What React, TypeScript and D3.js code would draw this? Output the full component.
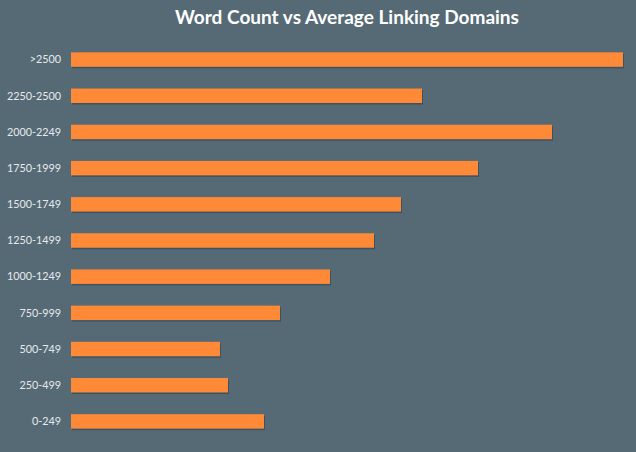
import React from "react";
import * as d3 from "d3";

const categories = ["0-249", "250-499", "500-749", "750-999", "1000-1249", "1250-1499", "1500-1749", "1750-1999", "2000-2249", "2250-2500", ">2500"];
const values = [193, 157, 149, 209, 259, 303, 330, 407, 481, 351, 552];
const title = "Word Count vs Average Linking Domains";

const W = 636;
const H = 452;
const margin = { left: 71, right: 13, top: 41.5, bottom: 12.5 };

export default function App() {
  const order = [...categories].reverse();
  const x = d3.scaleLinear().domain([0, 552]).range([margin.left, W - margin.right]);
  const y = d3
    .scaleBand<string>()
    .domain(order)
    .range([margin.top, H - margin.bottom])
    .paddingInner(0.6)
    .paddingOuter(0.3);
  const data = categories.map((c, i) => ({ c, v: values[i] }));
  return (
    <svg width={W} height={H} style={{ position: "absolute", left: 0, top: 0, display: "block" }}>
      <rect x={0} y={0} width={W} height={H} fill="#566a76" />
      <text x={347} y={24} textAnchor="middle" fill="#ffffff" fontFamily="Lato, 'Open Sans', sans-serif" fontWeight="bold" fontSize={19}>
        {title}
      </text>
      {data.map((d) => (
        <g key={d.c}>
          <rect x={x(0) + 1} y={(y(d.c) as number) + 1.5} width={x(d.v) - x(0)} height={y.bandwidth()} fill="#3c5363" />
          <rect x={x(0)} y={y(d.c) as number} width={x(d.v) - x(0)} height={y.bandwidth()} fill="#fe8a37" />
          <text
            x={61}
            y={(y(d.c) as number) + y.bandwidth() / 2}
            dy="0.35em"
            textAnchor="end"
            fill="#e6e9ec"
            fontFamily="Lato, 'Open Sans', sans-serif"
            fontSize={10.8}
          >
            {d.c}
          </text>
        </g>
      ))}
    </svg>
  );
}
